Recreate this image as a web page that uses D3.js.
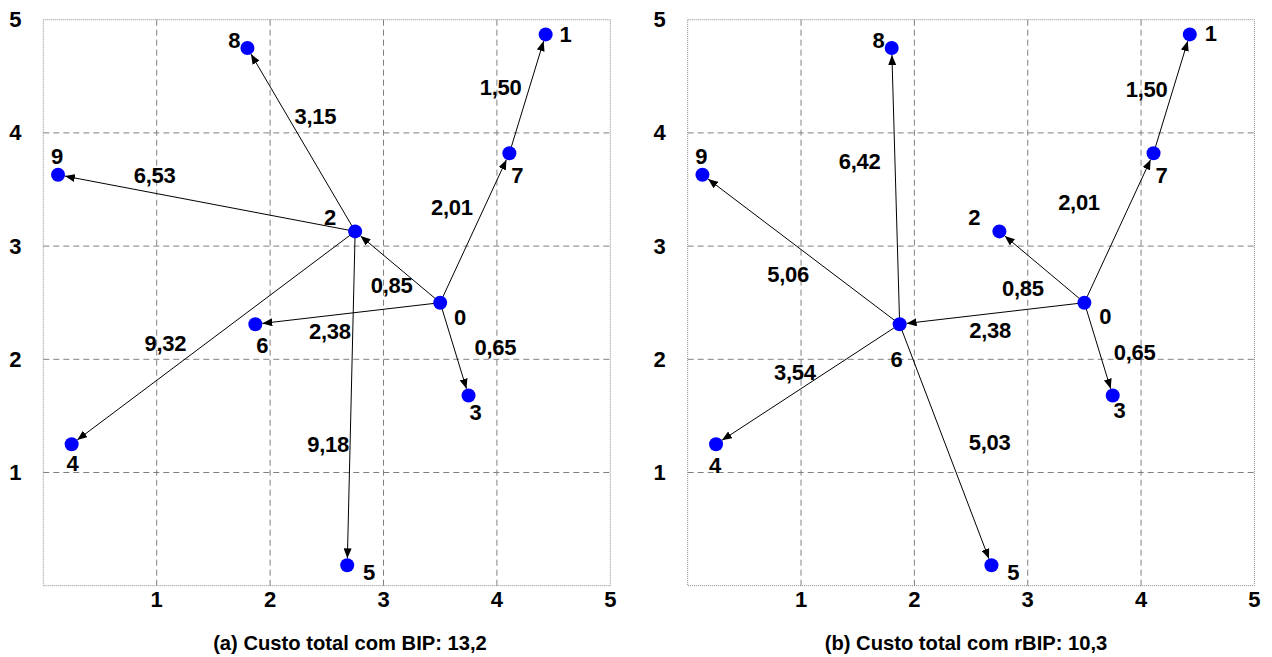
<!DOCTYPE html>
<html>
<head>
<meta charset="utf-8">
<script src="https://cdn.jsdelivr.net/npm/d3@7"></script>
<style>
  html, body { margin: 0; padding: 0; background: #fff; }
  svg { display: block; }
  text { font-family: "Liberation Sans", Arial, Helvetica, sans-serif; font-weight: bold; fill: #000; }
</style>
</head>
<body>
<svg id="chart" width="1272" height="657"></svg>
<script>
// Node coordinates (shared by both trees)
const nodeIds = [0, 1, 2, 3, 4, 5, 6, 7, 8, 9];
const nodeX = [3.50, 4.43, 2.75, 3.75, 0.25, 2.68, 1.87, 4.11, 1.80, 0.13];
const nodeY = [2.50, 4.87, 3.13, 1.68, 1.25, 0.18, 2.31, 3.82, 4.75, 3.63];

// Tree edges (source -> target) and their costs
const bipSource = [7, 0, 0, 0, 0, 2, 2, 2, 2];
const bipTarget = [1, 7, 2, 6, 3, 8, 9, 4, 5];
const bipCost   = ["1,50", "2,01", "0,85", "2,38", "0,65", "3,15", "6,53", "9,32", "9,18"];

const rbipSource = [7, 0, 0, 0, 0, 6, 6, 6, 6];
const rbipTarget = [1, 7, 2, 6, 3, 8, 9, 4, 5];
const rbipCost   = ["1,50", "2,01", "0,85", "2,38", "0,65", "6,42", "5,06", "3,54", "5,03"];

const tickValues = [1, 2, 3, 4, 5];
const titles = ["(a) Custo total com BIP: 13,2", "(b) Custo total com rBIP: 10,3"];

// Label placement (pixel offsets from edge midpoint / node centre)
const bipCostOffset = [[-27, -6], [-23, -20], [-6, 18], [-18, 18], [41, -2], [14, -23], [-52, -28], [-48, 6], [-23, 46]];
const rbipCostOffset = [[-25, -4], [-40, -25], [-19, 21], [-2, 17], [36, 3], [-36, -25], [-13, 25], [-13, -12], [44, -2]];
const bipNodeOffset = [[20, 15], [20, 0], [-25, -14], [7, 17], [1, 19], [22, 7], [7, 21], [8, 22], [-13, -8], [-1, -18]];
const rbipNodeOffset = [[21, 14], [21, -1], [-25, -14], [7, 15], [-1, 21], [22, 7], [-3, 35], [8, 22], [-13, -8], [-1, -18]];

const panels = [
  { left: 43.3, right: 610.3, title: titles[0], titleX: 350, src: bipSource, tgt: bipTarget, cost: bipCost, costOff: bipCostOffset, nodeOff: bipNodeOffset },
  { left: 687.7, right: 1254.4, title: titles[1], titleX: 966, src: rbipSource, tgt: rbipTarget, cost: rbipCost, costOff: rbipCostOffset, nodeOff: rbipNodeOffset }
];
const plotTop = 19.7, plotBottom = 585.7;
const R = 7;
const labelSize = 22;

const svg = d3.select("#chart");

svg.append("defs").append("marker")
  .attr("id", "arrow")
  .attr("viewBox", "0 0 10 8")
  .attr("refX", 10).attr("refY", 4)
  .attr("markerWidth", 10).attr("markerHeight", 8)
  .attr("markerUnits", "userSpaceOnUse")
  .attr("orient", "auto")
  .append("path").attr("d", "M0,0 L10,4 L0,8 Z").attr("fill", "#000");

panels.forEach(p => {
  const x = d3.scaleLinear().domain([0, 5]).range([p.left, p.right]);
  const y = d3.scaleLinear().domain([0, 5]).range([plotBottom, plotTop]);
  const g = svg.append("g");

  // dashed grid
  g.selectAll("line.gx").data(tickValues.slice(0, 4)).join("line")
    .attr("class", "gx")
    .attr("x1", d => x(d)).attr("x2", d => x(d))
    .attr("y1", plotTop).attr("y2", plotBottom)
    .attr("stroke", "#808080").attr("stroke-width", 1).attr("stroke-dasharray", "6,4");
  g.selectAll("line.gy").data(tickValues.slice(0, 4)).join("line")
    .attr("class", "gy")
    .attr("y1", d => y(d)).attr("y2", d => y(d))
    .attr("x1", p.left).attr("x2", p.right)
    .attr("stroke", "#808080").attr("stroke-width", 1).attr("stroke-dasharray", "6,4");

  // dotted frame
  g.append("rect")
    .attr("x", p.left).attr("y", plotTop)
    .attr("width", p.right - p.left).attr("height", plotBottom - plotTop)
    .attr("fill", "none").attr("stroke", "#888").attr("stroke-width", 1)
    .attr("stroke-dasharray", "1,1");

  // tick labels
  g.selectAll("text.tx").data(tickValues).join("text")
    .attr("class", "tx")
    .attr("x", d => x(d)).attr("y", plotBottom + 14)
    .attr("text-anchor", "middle").attr("dominant-baseline", "central")
    .attr("font-size", labelSize).text(d => d);
  g.selectAll("text.ty").data(tickValues).join("text")
    .attr("class", "ty")
    .attr("x", p.left - 28).attr("y", d => y(d))
    .attr("text-anchor", "middle").attr("dominant-baseline", "central")
    .attr("font-size", labelSize).text(d => d);

  // edges with arrowheads ending at target circle edge
  const edges = p.src.map((s, i) => ({ s, t: p.tgt[i], cost: p.cost[i], off: p.costOff[i] }));
  const endPoint = d => {
    const x0 = x(nodeX[d.s]), y0 = y(nodeY[d.s]);
    const x1 = x(nodeX[d.t]), y1 = y(nodeY[d.t]);
    const L = Math.hypot(x1 - x0, y1 - y0);
    return [x1 - (x1 - x0) / L * R, y1 - (y1 - y0) / L * R];
  };
  g.selectAll("line.edge").data(edges).join("line")
    .attr("class", "edge")
    .attr("x1", d => x(nodeX[d.s])).attr("y1", d => y(nodeY[d.s]))
    .attr("x2", d => endPoint(d)[0])
    .attr("y2", d => endPoint(d)[1])
    .attr("stroke", "#000").attr("stroke-width", 1)
    .attr("marker-end", "url(#arrow)");

  // nodes
  g.selectAll("circle").data(nodeIds).join("circle")
    .attr("cx", i => x(nodeX[i])).attr("cy", i => y(nodeY[i]))
    .attr("r", R).attr("fill", "#0000ff");

  // edge costs
  g.selectAll("text.cost").data(edges).join("text")
    .attr("class", "cost")
    .attr("x", d => (x(nodeX[d.s]) + x(nodeX[d.t])) / 2 + d.off[0])
    .attr("y", d => (y(nodeY[d.s]) + y(nodeY[d.t])) / 2 + d.off[1])
    .attr("text-anchor", "middle").attr("dominant-baseline", "central")
    .attr("font-size", labelSize).attr("letter-spacing", -0.3)
    .text(d => d.cost);

  // node ids
  g.selectAll("text.nid").data(nodeIds).join("text")
    .attr("class", "nid")
    .attr("x", i => x(nodeX[i]) + p.nodeOff[i][0])
    .attr("y", i => y(nodeY[i]) + p.nodeOff[i][1])
    .attr("text-anchor", "middle").attr("dominant-baseline", "central")
    .attr("font-size", labelSize).text(i => i);

  // caption
  g.append("text")
    .attr("x", p.titleX).attr("y", 643)
    .attr("text-anchor", "middle").attr("dominant-baseline", "central")
    .attr("font-size", 20.2)
    .text(p.title);
});
</script>
</body>
</html>
